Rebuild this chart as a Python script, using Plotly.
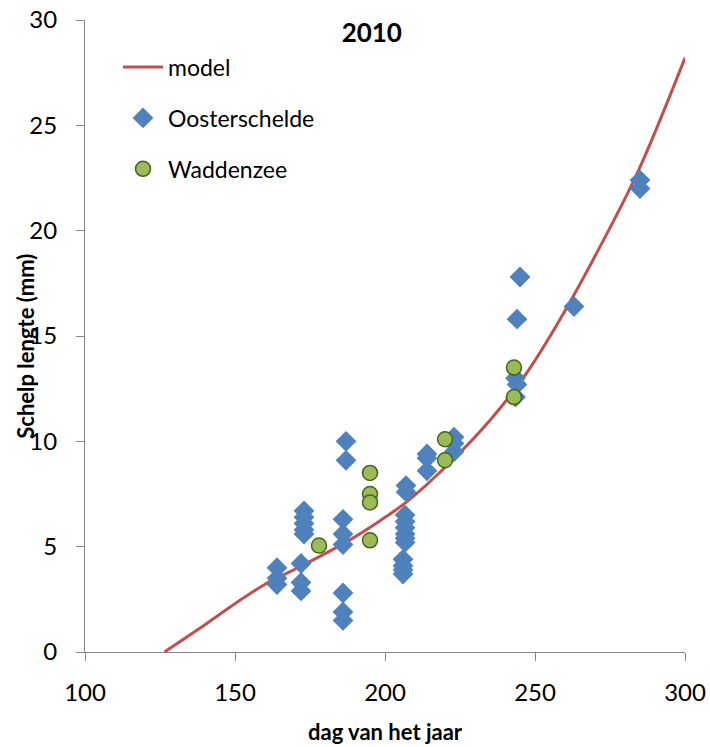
import plotly.graph_objects as go

# Model curve
model_day = [126.5, 138, 149, 161, 171, 188, 198, 207, 221, 235, 247, 262, 284, 300]
model_len = [0.0, 1.1, 2.2, 3.3, 4.0, 5.3, 6.2, 7.1, 8.9, 11.0, 13.2, 16.7, 22.7, 28.2]

# Oosterschelde observations
oost_day = [164, 164, 164,
            172, 172, 172,
            173, 173, 173, 173, 173,
            186, 186, 186, 186, 186, 186,
            187, 187,
            207, 207,
            206.7, 206.7, 206.7, 206.7, 206.7, 206.7,
            206, 206, 206, 206,
            214, 214, 214,
            223, 223, 223,
            243.5, 244, 243.5,
            244, 245,
            263,
            285, 285]
oost_len = [4.0, 3.5, 3.2,
            4.2, 3.3, 2.9,
            6.7, 6.4, 6.1, 5.8, 5.6,
            6.3, 5.6, 5.1, 2.8, 1.9, 1.5,
            10.0, 9.1,
            7.9, 7.6,
            6.5, 6.2, 5.9, 5.6, 5.4, 5.2,
            4.4, 4.1, 3.9, 3.7,
            9.4, 9.2, 8.6,
            10.2, 9.9, 9.5,
            13.0, 12.7, 12.1,
            15.8, 17.8,
            16.4,
            22.4, 22.0]

# Waddenzee observations
wad_day = [178, 195, 195, 195, 195, 220, 220, 243, 243]
wad_len = [5.05, 8.5, 7.5, 7.1, 5.3, 10.1, 9.1, 13.5, 12.1]

x_ticks = [100, 150, 200, 250, 300]
y_ticks = [0, 5, 10, 15, 20, 25, 30]

FONT = "Lato, 'Open Sans', sans-serif"
AX = "#868686"

fig = go.Figure()
fig.add_trace(go.Scatter(x=model_day, y=model_len, mode="lines", name="model",
                         line=dict(color="#C0504D", width=3, shape="spline", smoothing=0.8),
                         legendgroup="a"))
fig.add_trace(go.Scatter(x=oost_day, y=oost_len, mode="markers", name="Oosterschelde",
                         marker=dict(symbol="diamond", size=16, color="#4F81BD",
                                     line=dict(width=0)),
                         legendgroup="b"))
fig.add_trace(go.Scatter(x=wad_day, y=wad_len, mode="markers", name="Waddenzee",
                         marker=dict(symbol="circle", size=15, color="#9BBB59",
                                     line=dict(width=1.5, color="#46651B")),
                         legendgroup="c"))

fig.update_layout(
    width=710, height=747,
    margin=dict(l=85, r=25, t=20, b=95),
    paper_bgcolor="white", plot_bgcolor="white",
    font=dict(family=FONT, size=24, color="#000000"),
    showlegend=True,
    legend=dict(x=0.055, y=0.9595, xanchor="left", yanchor="top",
                font=dict(size=23), tracegroupgap=18, bgcolor="rgba(0,0,0,0)",
                itemwidth=40),
    title=dict(text="<b>2010</b>", x=0.478, xref="paper", xanchor="center",
               y=0.979, yref="paper", yanchor="middle",
               font=dict(size=26, family=FONT)),
    xaxis=dict(range=[100, 300], tickvals=x_ticks, showgrid=False, zeroline=False,
               showline=True, linecolor=AX, linewidth=1, ticks="outside",
               ticklen=8, tickcolor=AX, ticklabelstandoff=11,
               tickfont=dict(size=24), automargin=False),
    yaxis=dict(range=[0, 30], tickvals=y_ticks, showgrid=False, zeroline=False,
               showline=True, linecolor=AX, linewidth=1, ticks="outside",
               ticklen=8, tickcolor=AX, ticklabelstandoff=14,
               tickfont=dict(size=24), automargin=False),
    annotations=[
        dict(text="<b>dag van het jaar</b>", xref="paper", yref="paper",
             x=0.5, y=0, xanchor="center", yanchor="middle", yshift=-79,
             showarrow=False, font=dict(size=22)),
        dict(text="<b>Schelp lengte (mm)</b>", xref="paper", yref="paper",
             x=0, y=0.483, xanchor="center", yanchor="middle", xshift=-59,
             textangle=-90, showarrow=False, font=dict(size=22)),
    ],
)

fig.write_html("out.html")
